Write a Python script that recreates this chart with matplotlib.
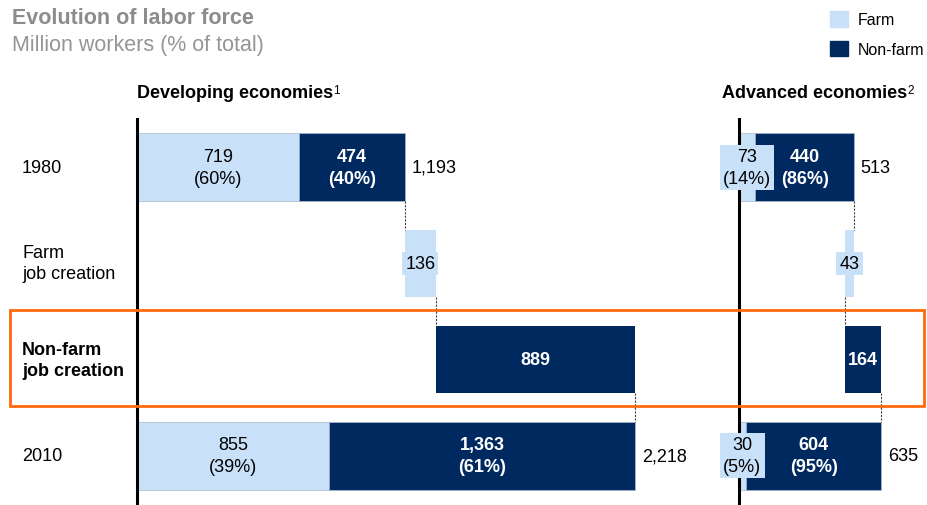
import matplotlib
matplotlib.use('Agg')
import matplotlib.pyplot as plt
import matplotlib.transforms as mtransforms
from matplotlib.patches import Patch, Rectangle

plt.rcParams['font.family'] = ['Liberation Sans', 'DejaVu Sans']

# 数据
rows = ['1980', 'Farm\njob creation', 'Non-farm\njob creation', '2010']
panels = ['Developing economies', 'Advanced economies']
farm_1980 = [719, 73]
nonfarm_1980 = [474, 440]
farm_change = [136, -43]
nonfarm_change = [889, 164]
farm_2010 = [855, 30]
nonfarm_2010 = [1363, 604]
pct_farm_1980 = ['60%', '14%']
pct_nonfarm_1980 = ['40%', '86%']
pct_farm_2010 = ['39%', '5%']
pct_nonfarm_2010 = ['61%', '95%']
total_1980 = ['1,193', '513']
total_2010 = ['2,218', '635']
footnotes = ['1', '2']

FARM = '#C9E0F9'
NONFARM = '#002960'
ORANGE = '#FF6A0D'
W, H = 927, 506
PX = 0.2247  # 每单位的像素数

fig = plt.figure(figsize=(W / 100, H / 100), dpi=100)

def make_ax(left_px, xmax):
    ax = fig.add_axes([left_px / W, 1 - 505 / H, xmax * PX / W, 385 / H])
    ax.set_xlim(0, xmax)
    ax.set_ylim(3.5, -0.5)
    for s in ['top', 'right', 'bottom']:
        ax.spines[s].set_visible(False)
    ax.spines['left'].set_linewidth(2.2)
    ax.set_xticks([])
    ax.set_yticks([])
    ax.patch.set_visible(False)
    return ax

axes = [make_ax(137, 2500), make_ax(739, 800)]
bh = 0.7
box = dict(facecolor=FARM, edgecolor='none', pad=2.2)
ls2 = 1.38

for i, ax in enumerate(axes):
    edge = dict(edgecolor='#A9B8CC', linewidth=0.5)
    # 1980
    ax.barh(0, farm_1980[i], height=bh, color=FARM, **edge)
    ax.barh(0, nonfarm_1980[i], left=farm_1980[i], height=bh, color=NONFARM, **edge)
    t1980 = farm_1980[i] + nonfarm_1980[i]
    # 农业就业变化
    ax.barh(1, farm_change[i], left=t1980, height=bh, color=FARM, edgecolor='none')
    s1 = t1980 + farm_change[i]
    # 非农就业变化
    ax.barh(2, nonfarm_change[i], left=s1, height=bh, color=NONFARM, edgecolor='none')
    s2 = s1 + nonfarm_change[i]
    # 2010
    ax.barh(3, farm_2010[i], height=bh, color=FARM, **edge)
    ax.barh(3, nonfarm_2010[i], left=farm_2010[i], height=bh, color=NONFARM, **edge)
    t2010 = farm_2010[i] + nonfarm_2010[i]

    # 连接虚线
    for x, r in [(t1980, 0), (s1, 1), (s2, 2)]:
        ax.plot([x, x], [r + bh / 2, r + 1 - bh / 2], color='#444444',
                lw=0.8, ls=(0, (2, 1.2)), zorder=1)

    fs = 13
    ax.text(farm_1980[i] / 2, 0, f'{farm_1980[i]}\n({pct_farm_1980[i]})', ha='center',
            va='center', fontsize=fs, bbox=box, zorder=5, linespacing=ls2)
    ax.text(farm_1980[i] + nonfarm_1980[i] / 2, 0, f'{nonfarm_1980[i]}\n({pct_nonfarm_1980[i]})',
            ha='center', va='center', fontsize=fs, color='white', fontweight='bold',
            linespacing=ls2)
    ax.text(t1980 + farm_change[i] / 2, 1, f'{abs(farm_change[i])}', ha='center',
            va='center', fontsize=fs, bbox=box, zorder=5)
    ax.text(s1 + nonfarm_change[i] / 2, 2, f'{nonfarm_change[i]}', ha='center',
            va='center', fontsize=fs, color='white', fontweight='bold')
    ax.text(farm_2010[i] / 2, 3, f'{farm_2010[i]}\n({pct_farm_2010[i]})', ha='center',
            va='center', fontsize=fs, bbox=box, zorder=5, linespacing=ls2)
    ax.text(farm_2010[i] + nonfarm_2010[i] / 2, 3, f'{nonfarm_2010[i]:,}\n({pct_nonfarm_2010[i]})',
            ha='center', va='center', fontsize=fs, color='white', fontweight='bold',
            linespacing=ls2)
    ax.annotate(total_1980[i], (t1980, 0), xytext=(4.5, 0), textcoords='offset points',
                ha='left', va='center', fontsize=fs)
    ax.annotate(total_2010[i], (t2010, 3), xytext=(4.5, 0), textcoords='offset points',
                ha='left', va='center', fontsize=fs)

# 分组标题
hx = [137, 722]
for i in range(2):
    ht = fig.text(hx[i] / W, 1 - 93 / H, panels[i], fontsize=13, fontweight='bold',
                  ha='left', va='center')
    axes[i].annotate(footnotes[i], xy=(1, 0.95), xycoords=ht, xytext=(0, 0),
                     textcoords='offset points', ha='left', va='top', fontsize=8.5)

# 行标签
trans = mtransforms.blended_transform_factory(fig.transFigure, axes[0].transData)
for r, lab in enumerate(rows):
    axes[0].text(22 / W, r, lab, transform=trans, ha='left', va='center', fontsize=13,
                 fontweight='bold' if r == 2 else 'normal', linespacing=1.32)

# 橙色高亮框
fig.patches.append(Rectangle((10 / W, 1 - 407 / H), 914 / W, 96 / H, transform=fig.transFigure,
                             fill=False, edgecolor=ORANGE, linewidth=2))

# 标题
fig.text(12 / W, 1 - 18 / H, 'Evolution of labor force', fontsize=15.5, fontweight='bold',
         color='#8C8C8C', ha='left', va='center')
fig.text(12 / W, 1 - 46 / H, 'Million workers (% of total)', fontsize=15.5,
         color='#959595', ha='left', va='center')

# 图例
fig.legend(handles=[Patch(color=FARM), Patch(color=NONFARM)], labels=['Farm', 'Non-farm'],
           loc='upper left', bbox_to_anchor=(824 / W, 1 - 6 / H), frameon=False,
           fontsize=11.5, handlelength=1.1, handleheight=1.1, handletextpad=0.6,
           labelspacing=0.85, borderaxespad=0)

plt.savefig('out.png', dpi=100)
